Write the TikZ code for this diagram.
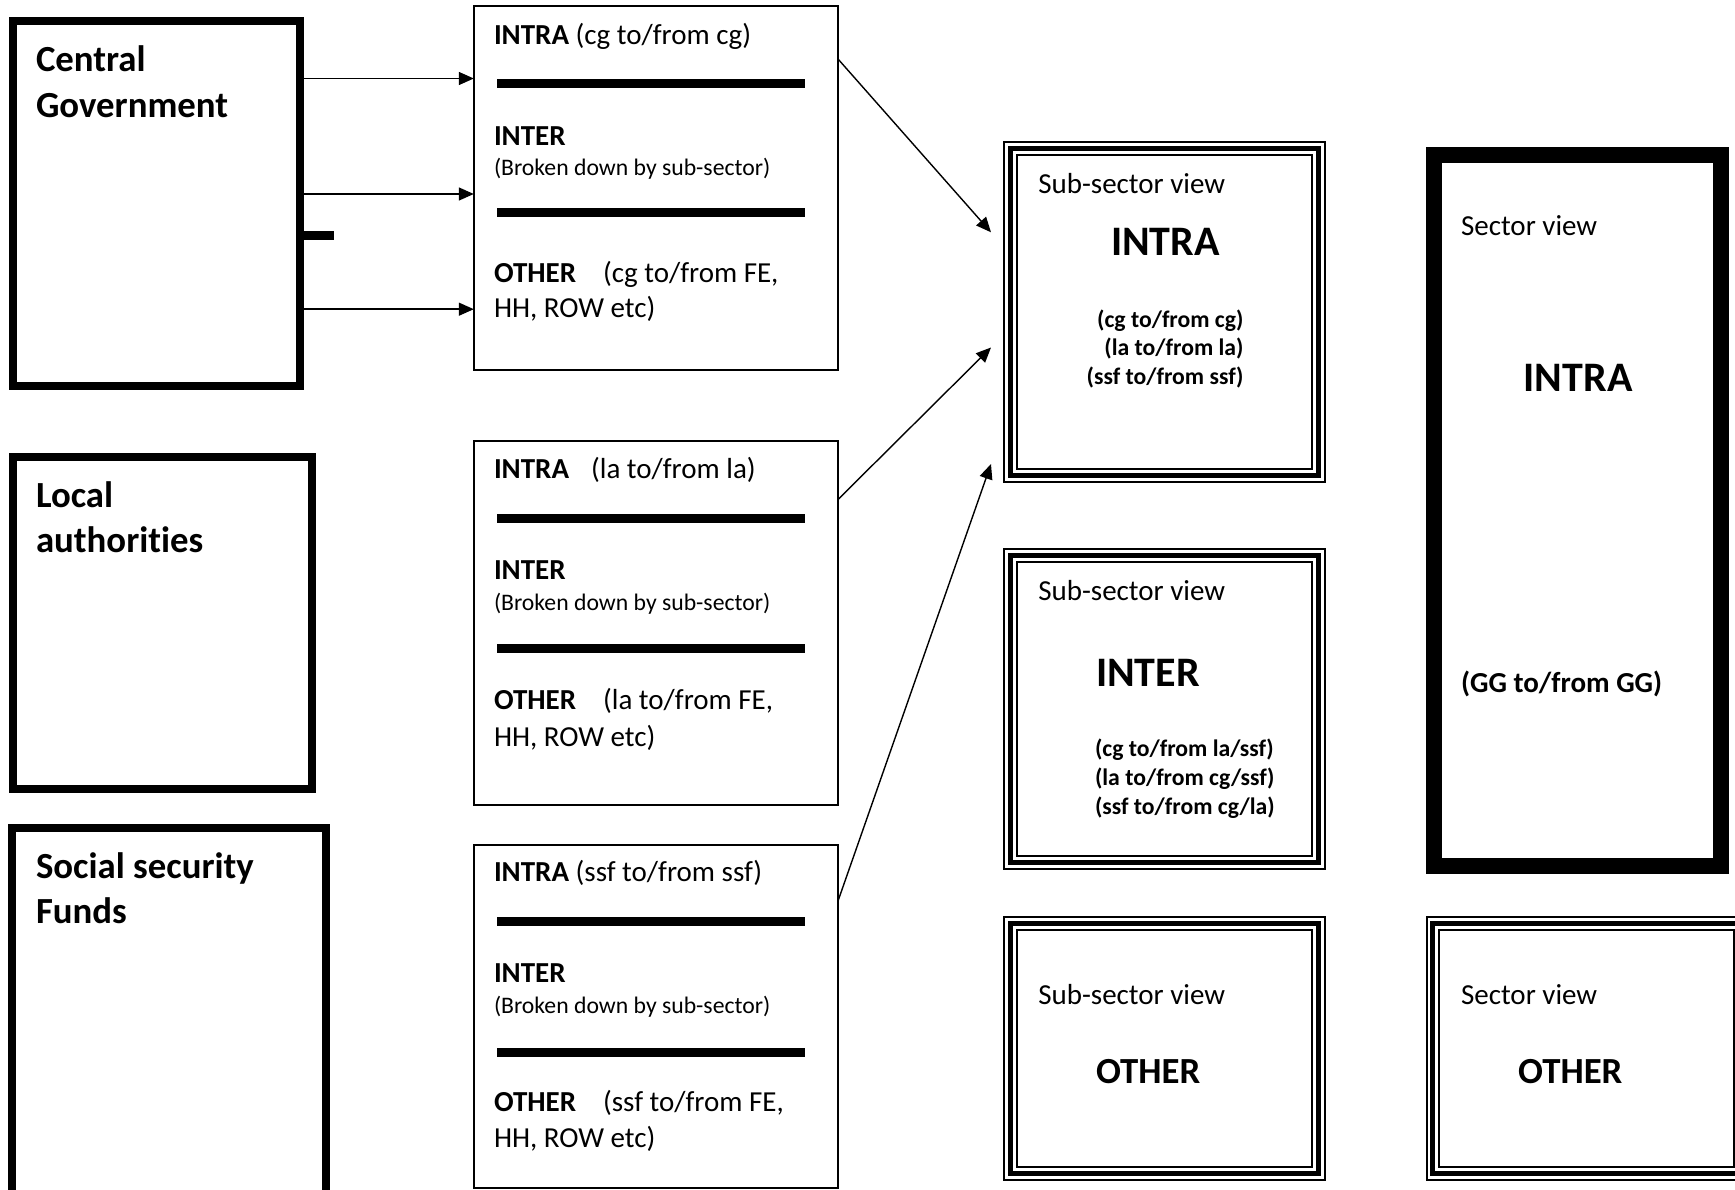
\documentclass[tikz,border=0pt]{standalone}
\usepackage{fontspec}
\setmainfont[Ligatures=NoCommon]{Carlito}
\usetikzlibrary{arrows.meta,calc}
\tikzset{
  every node/.style={inner sep=0pt, outer sep=0pt},
  txt/.style={anchor=base west, font=\fontsize{29pt}{35pt}\selectfont},
  sml/.style={anchor=base west, font=\fontsize{23.7pt}{29pt}\selectfont},
  smb/.style={anchor=base east, font=\fontsize{23.7pt}{29pt}\selectfont\bfseries},
  smbl/.style={anchor=base west, font=\fontsize{23.7pt}{29pt}\selectfont\bfseries},
  lbl/.style={anchor=base west, font=\fontsize{36.8pt}{45pt}\selectfont\bfseries},
  big/.style={anchor=base west, font=\fontsize{42pt}{50pt}\selectfont\bfseries},
  heavybox/.style={draw, line width=8pt, anchor=north west},
  thinbox/.style={draw, line width=2pt, anchor=north west},
  tribox/.style={draw, line width=2pt, anchor=north west},
  sectbox/.style={draw, line width=16pt, anchor=north west},
  sepbar/.style={line width=9pt},
  arr/.style={line width=1.4pt, -{Triangle[length=15pt,width=13pt]}},
}
\newcommand\innerlines[1]{%
  \draw[line width=5pt] ($(#1.north west)+(6.3,6.3)$) rectangle ($(#1.south east)+(-6.3,-6.3)$);
  \draw[line width=2pt] ($(#1.north west)+(12.8,12.8)$) rectangle ($(#1.south east)+(-12.8,-12.8)$);}
\begin{document}
\begin{tikzpicture}[x=1pt,y=-1pt]
\useasboundingbox (0,0) rectangle (1735,1190);
\fill[white] (0,0) rectangle (1735,1190);
\clip (0,0) rectangle (1735,1190);

% left boxes
\node[heavybox, minimum width=287.5pt, minimum height=364.8pt] (cg) at (12.5,21) {};
\node[heavybox, minimum width=299.5pt, minimum height=332.5pt] (la) at (12.5,456.5) {};
\node[heavybox, minimum width=313.8pt, minimum height=365.2pt] (ssf) at (12.2,828.3) {};
\node[lbl] (cgt1) at (36,71.5) {Central};
\node[lbl] (cgt2) at (36,117.8) {Government};
\node[lbl] (lat1) at (36,507) {Local};
\node[lbl] (lat2) at (36,552.5) {authorities};
\node[lbl] (sst1) at (36,878.5) {Social security};
\node[lbl] (sst2) at (36,923.5) {Funds};

% middle boxes
\node[thinbox, minimum width=364.2pt, minimum height=363.8pt] (b1) at (473.8,6.4) {};
\node[thinbox, minimum width=364.2pt, minimum height=364pt] (b2) at (473.8,441) {};
\node[thinbox, minimum width=364.2pt, minimum height=342.7pt] (b3) at (473.8,844.8) {};
\foreach \y in {83.5,213,518.5,648.5,921.5,1052} \draw[sepbar] (497,\y) -- (805,\y);

\node[txt] (b1a) at (494,44.8) {\textbf{INTRA} (cg to/from cg)};
\node[txt] (b1b) at (494,145.4) {\textbf{INTER}};
\node[sml] (b1c) at (494,175.3) {(Broken down by sub-sector)};
\node[txt] (b1d) at (494,282.4) {\textbf{OTHER}\hspace{27pt}(cg to/from FE,};
\node[txt] (b1e) at (494,317.6) {HH, ROW etc)};

\node[txt] (b2a) at (494,478.4) {\textbf{INTRA}\hspace{22pt}(la to/from la)};
\node[txt] (b2b) at (494,579.8) {\textbf{INTER}};
\node[sml] (b2c) at (494,610) {(Broken down by sub-sector)};
\node[txt] (b2d) at (494,709.1) {\textbf{OTHER}\hspace{27pt}(la to/from FE,};
\node[txt] (b2e) at (494,746.7) {HH, ROW etc)};

\node[txt] (b3a) at (494,881) {\textbf{INTRA} (ssf to/from ssf)};
\node[txt] (b3b) at (494,982) {\textbf{INTER}};
\node[sml] (b3c) at (494,1013.5) {(Broken down by sub-sector)};
\node[txt] (b3d) at (494,1111.7) {\textbf{OTHER}\hspace{27pt}(ssf to/from FE,};
\node[txt] (b3e) at (494,1147) {HH, ROW etc)};

% sub-sector boxes
\node[tribox, minimum width=321pt, minimum height=339.5pt] (sub1) at (1004,142) {};
\innerlines{sub1}
\node[tribox, minimum width=321pt, minimum height=320pt] (sub2) at (1004,549) {};
\innerlines{sub2}
\node[tribox, minimum width=321pt, minimum height=263pt] (sub3) at (1004,917) {};
\innerlines{sub3}

\node[txt] (s1a) at (1038.3,193.3) {Sub-sector view};
\node[big] (s1b) at (1111,255.6) {INTRA};
\node[smb] (s1c) at (1243.5,327.2) {(cg to/from cg)};
\node[smb] (s1d) at (1243.5,355.9) {(la to/from la)};
\node[smb] (s1e) at (1243.5,384.6) {(ssf to/from ssf)};

\node[txt] (s2a) at (1038.3,600.4) {Sub-sector view};
\node[big] (s2b) at (1096,686) {INTER};
\node[smbl] (s2c) at (1095,756) {(cg to/from la/ssf)};
\node[smbl] (s2d) at (1095,785) {(la to/from cg/ssf)};
\node[smbl] (s2e) at (1095,814) {(ssf to/from cg/la)};

\node[txt] (s3a) at (1038.3,1004.5) {Sub-sector view};
\node[lbl] (s3b) at (1096,1083.5) {OTHER};

% sector boxes
\node[sectbox, minimum width=287.5pt, minimum height=710.5pt] (sec1) at (1433.75,155.3) {};
\node[txt] (g1a) at (1461,235.4) {Sector view};
\node[big] (g1b) at (1523.7,391.1) {INTRA};
\node[txt, font=\fontsize{29pt}{35pt}\selectfont\bfseries] (g1c) at (1461,692) {(GG to/from GG)};

\node[tribox, minimum width=320.5pt, minimum height=263pt] (sec2) at (1426.5,917) {};
\innerlines{sec2}
\node[txt] (g2a) at (1461,1004.5) {Sector view};
\node[lbl] (g2b) at (1518.2,1083.5) {OTHER};

% connectors
\draw[arr] (cg.east |- 0,78.5) -- (b1.west |- 0,78.5);
\draw[arr] (cg.east |- 0,194) -- (b1.west |- 0,194);
\draw[arr] (cg.east |- 0,309.2) -- (b1.west |- 0,309.2);
\draw[line width=9.2pt] (cg.east |- 0,235.4) -- (334,235.4);

\draw[arr] (b1.east |- 0,59) -- ($(sub1.west |- 0,232.3)+(-13,0)$);
\draw[arr] (b2.east |- 0,499.5) -- ($(sub1.west |- 0,347.5)+(-13,0)$);
\draw[arr] (b3.east |- 0,901) -- ($(sub1.west |- 0,464)+(-13,0)$);
\end{tikzpicture}
\end{document}
